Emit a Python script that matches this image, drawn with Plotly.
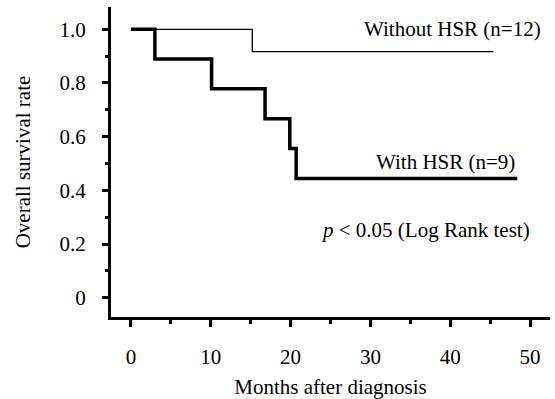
import plotly.graph_objects as go

# Kaplan-Meier step data (months, survival)
with_t = [0, 3.0, 3.0, 10.1, 10.1, 16.8, 16.8, 19.9, 19.9, 20.7, 20.7, 48.4]
with_s = [1.0, 1.0, 0.889, 0.889, 0.778, 0.778, 0.667, 0.667, 0.556, 0.556, 0.444, 0.444]
without_t = [0, 15.2, 15.2, 45.4]
without_s = [1.0, 1.0, 0.917, 0.917]

y_tickvals = [0, 0.2, 0.4, 0.6, 0.8, 1.0]
y_ticktext = ["0", "0.2", "0.4", "0.6", "0.8", "1.0"]
x_tickvals = [0, 10, 20, 30, 40, 50]
x_ticktext = ["0", "10", "20", "30", "40", "50"]

FONT = "Liberation Serif, Times New Roman, serif"
FS = 21

fig = go.Figure()
fig.add_trace(go.Scatter(x=without_t, y=without_s, mode="lines",
                         line=dict(color="black", width=1.3), showlegend=False))
fig.add_trace(go.Scatter(x=with_t, y=with_s, mode="lines",
                         line=dict(color="black", width=3.5), showlegend=False))

fig.add_annotation(x=51.6, y=1.0, xref="x", yref="y", text="Without HSR (n=12)",
                   showarrow=False, xanchor="right", yanchor="middle",
                   font=dict(family=FONT, size=FS, color="black"))
fig.add_annotation(x=48.4, y=0.505, xref="x", yref="y", text="With HSR (n=9)",
                   showarrow=False, xanchor="right", yanchor="middle",
                   font=dict(family=FONT, size=FS, color="black"))
fig.add_annotation(x=50.3, y=0.253, xref="x", yref="y",
                   text="<i>p</i> < 0.05 (Log Rank test)",
                   showarrow=False, xanchor="right", yanchor="middle",
                   font=dict(family=FONT, size=FS, color="black"))

fig.update_layout(
    width=555, height=399,
    margin=dict(l=111, r=5, t=7, b=82),
    plot_bgcolor="white", paper_bgcolor="white",
    font=dict(family=FONT, size=FS, color="black"),
)
fig.update_xaxes(
    range=[-2.5, 52.5], showgrid=False, zeroline=False, automargin=False,
    showline=True, linecolor="black", linewidth=3,
    ticks="outside", ticklen=7, tickwidth=2.5, tickcolor="black",
    tickvals=x_tickvals, ticktext=x_ticktext, ticklabelstandoff=12,
    minor=dict(ticks="outside", ticklen=4, tickwidth=2.5, tickcolor="black", dtick=5, tick0=0, showgrid=False),
    title=dict(text="Months after diagnosis", font=dict(family=FONT, size=FS), standoff=14),
)
fig.update_yaxes(
    range=[-0.072, 1.083], showgrid=False, zeroline=False, automargin=False,
    showline=True, linecolor="black", linewidth=3,
    ticks="outside", ticklen=6, tickwidth=2.5, tickcolor="black",
    tickvals=y_tickvals, ticktext=y_ticktext, ticklabelstandoff=12,
    minor=dict(ticks="outside", ticklen=3, tickwidth=2.5, tickcolor="black", dtick=0.1, tick0=0, showgrid=False),
    title=dict(text="Overall survival rate", font=dict(family=FONT, size=FS), standoff=24),
)

fig.write_html("out.html", config={"displayModeBar": False},
               post_script="document.body.style.margin='0';")
